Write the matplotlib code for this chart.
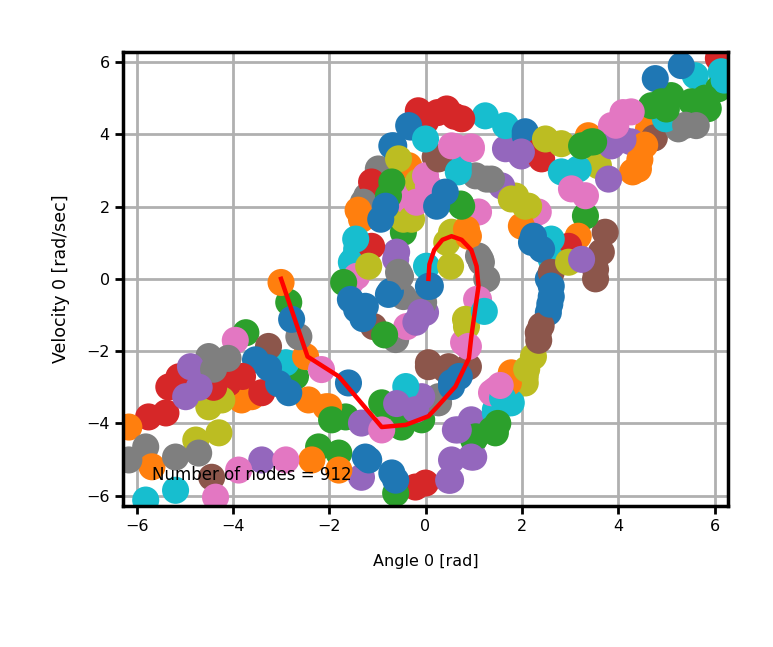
import numpy as np
import matplotlib
matplotlib.use("Agg")
import matplotlib.pyplot as plt

# tree nodes, grouped by their tab10 colour
nodes_blue = [(-0.31, 4.2), (-0.66, 3.68), (-0.35, 4.24), (-0.7, 3.68), (2.07, 4.07), (2.07, 3.96),
              (0.41, 2.29), (2.24, 1.18), (2.41, 0.82), (2.2, 1.01), (2.55, 0.0), (2.61, -0.49),
              (2.55, -0.93), (0.54, -2.87), (0.54, -2.98), (-0.73, -0.35), (-1.25, -0.76), (0.06, -0.21),
              (-3.53, -2.24), (-3.26, -2.46), (-2.84, -3.15), (-2.78, -1.12), (-1.6, -2.88), (-1.25, -4.93),
              (-0.7, -5.37), (-1.18, -5.01), (-0.62, -5.57), (4.77, 5.54), (5.31, 5.9), (0.41, 2.4),
              (-0.77, -0.43), (-1.43, -0.85), (-1.56, -0.57), (0.1, -0.2), (-0.83, 2.01), (-0.93, 1.65),
              (0.23, 2.01), (2.61, -0.2), (2.58, -0.7), (-3.05, -2.9), (0.7, -2.7), (-1.3, -1.1)]
nodes_orange = [(-1.33, 1.65), (-0.35, 3.13), (2.03, 1.46), (1.99, 1.46), (3.17, 1.18), (1.78, -2.6),
                (4.63, 4.15), (4.42, 3.04), (4.3, 2.96), (3.38, 3.96), (-6.16, -4.1), (-3.82, -3.35),
                (-3.61, -3.26), (-2.43, -3.35), (-2.07, -3.54), (-5.68, -5.2), (-2.36, -5.01), (-3.0, -0.1),
                (-2.49, -2.15), (-2.01, -3.54), (-1.8, -5.29), (0.89, 1.18), (1.72, -2.88), (0.85, 1.37),
                (4.45, 3.3), (-1.4, 1.9), (4.55, 3.7)]
nodes_green = [(0.73, 2.07), (-0.46, 1.29), (3.32, 1.74), (1.45, -4.26), (1.0, -4.46), (-0.08, -3.9),
               (-0.83, -3.54), (-3.73, -1.49), (-2.7, -2.7), (-2.22, -4.65), (-1.8, -4.82), (-2.84, -0.65),
               (-1.66, -3.82), (-0.91, -3.43), (-0.5, -4.1), (-0.62, -5.93), (1.04, -4.37), (1.37, -4.18),
               (5.1, 5.07), (5.87, 4.71), (5.52, 4.9), (4.69, 4.79), (6.08, 5.26), (3.44, 3.79), (3.24, 3.68),
               (0.75, 2.01), (-1.7, -0.1), (-0.77, 2.3), (-0.7, 2.68), (3.49, 3.79), (1.5, -4.0),
               (5.8, 5.0), (4.9, 4.9), (-1.95, -3.9), (-0.85, -1.55), (5.0, 4.7)]
nodes_red = [(-0.15, 4.65), (0.0, 4.35), (0.44, 4.7), (0.75, 4.43), (2.41, 3.32), (2.97, 0.9), (0.0, -5.65),
             (-5.75, -3.82), (-5.39, -3.71), (-5.33, -2.99), (-5.12, -2.71), (-4.09, -2.88), (-3.4, -3.15),
             (-0.21, -5.76), (6.08, 6.1), (2.34, 3.51), (0.25, 4.6), (-1.12, 2.68), (-1.12, 0.9),
             (-4.4, -3.0), (-3.8, -2.7), (0.6, 4.5)]
nodes_purple = [(1.66, 3.6), (1.99, 3.4), (1.58, 2.57), (-0.6, 0.74), (0.95, -3.9), (0.62, -4.18),
                (1.0, -4.93), (0.54, -5.01), (0.52, -5.57), (0.0, -0.93), (-0.35, -3.43), (-0.08, -3.26),
                (-0.62, 0.54), (-0.1, -0.93), (-4.88, -2.43), (-4.98, -3.26), (-3.4, -5.01), (-1.33, -3.99),
                (-0.21, -3.62), (-1.33, -5.49), (0.48, -5.57), (0.95, -4.93), (0.68, -4.18), (4.27, 3.79),
                (3.86, 3.68), (3.8, 2.76), (1.99, 3.51), (3.24, 0.54), (-4.7, -3.0), (4.1, 3.85),
                (-0.6, -3.45), (-0.2, -1.2)]
nodes_brown = [(0.2, 3.37), (3.73, 1.29), (3.65, 0.74), (3.53, 0.26), (3.53, 0.0), (2.34, -1.49),
               (0.06, -2.43), (0.41, -2.51), (0.89, -2.43), (-1.08, -1.32), (0.06, -2.32), (0.48, -2.43),
               (-3.26, -1.87), (-4.44, -5.49), (4.75, 3.9), (0.27, 3.32), (2.61, 0.18), (2.4, -1.3),
               (2.35, -1.7)]
nodes_pink = [(0.62, 3.65), (0.95, 3.65), (2.34, 1.85), (-0.21, 2.4), (-0.35, 2.13), (0.0, 2.85),
              (1.1, 1.85), (1.45, -3.07), (0.79, -1.76), (1.1, -0.57), (1.06, -0.57), (0.89, -1.87),
              (-1.43, 0.07), (-1.56, -0.1), (-0.39, -1.32), (-3.95, -1.7), (-4.36, -6.04), (-3.88, -5.29),
              (-2.9, -5.01), (-2.16, -2.51), (-0.91, -4.18), (1.37, -3.15), (4.27, 4.62), (3.86, 4.24),
              (3.03, 2.49), (3.32, 2.3), (0.54, 3.68), (0.95, 3.6), (0.06, 2.57), (-0.19, 2.12),
              (4.1, 4.6), (3.95, 4.25), (1.55, -2.95)]
nodes_gray = [(-0.98, 3.04), (-1.22, 2.29), (1.04, 2.85), (1.37, 2.76), (1.1, 0.63), (0.27, -3.43),
              (1.27, 0.0), (1.16, 0.46), (0.27, -3.26), (-0.62, -1.68), (-0.04, -0.65), (-0.46, -0.49),
              (-4.5, -2.15), (-4.36, -2.32), (-5.81, -4.65), (-6.16, -5.01), (-5.19, -4.93), (-4.71, -4.82),
              (-2.63, -1.6), (5.25, 4.15), (5.62, 4.24), (1.27, 2.76), (-0.52, 0.07), (-1.29, 2.12),
              (1.14, 0.54), (-0.56, 0.18), (-4.4, -2.5), (-4.1, -2.2), (5.4, 4.25)]
nodes_olive = [(2.41, 3.79), (1.87, 2.29), (2.14, 2.01), (-0.46, 1.65), (-0.15, 2.68), (0.44, 1.01),
               (0.54, 1.29), (2.24, -2.15), (2.07, -2.7), (0.85, -1.32), (0.83, -1.12), (-4.5, -3.54),
               (-4.23, -3.35), (-4.77, -4.46), (-4.29, -4.26), (2.07, -2.88), (3.59, 3.13), (2.82, 3.74),
               (2.49, 3.87), (1.78, 2.21), (2.07, 2.01), (0.52, 0.35), (-0.56, 3.32), (-0.29, 1.65),
               (-1.18, 0.35), (2.97, 0.46), (2.1, -2.5)]
nodes_cyan = [(-1.43, 0.82), (-1.49, 0.54), (1.24, 4.51), (1.66, 4.24), (0.68, 3.13), (2.61, 1.1),
              (2.61, 0.54), (1.72, -3.43), (1.45, -3.71), (-1.54, 0.46), (0.02, 0.35), (-2.9, -2.32),
              (-5.81, -6.12), (-5.19, -5.85), (-0.41, -2.98), (1.45, -3.62), (1.78, -3.43), (5.6, 5.62),
              (6.14, 5.73), (4.98, 4.43), (2.82, 2.96), (3.17, 3.04), (0.68, 2.96), (0.0, 3.87),
              (6.2, 5.5), (1.6, -3.3), (-1.45, 1.1), (1.22, -0.9)]

# best path found by the planner
path_angle = [-3.0, -2.45, -1.8, -0.91, -0.41, 0.06, 0.27, 0.62, 0.9, 0.95, 1.06, 1.1, 1.06, 0.95, 0.75,
              0.54, 0.35, 0.18, 0.08, 0.06]
path_velocity = [0.0, -2.15, -2.7, -4.1, -4.04, -3.8, -3.5, -2.98, -2.2, -1.6, -0.57, -0.2, 0.35, 0.8,
                 1.08, 1.18, 1.08, 0.8, 0.4, 0.0]

node_count = 912

groups = [
    ("tab:blue", nodes_blue),
    ("tab:orange", nodes_orange),
    ("tab:green", nodes_green),
    ("tab:red", nodes_red),
    ("tab:purple", nodes_purple),
    ("tab:brown", nodes_brown),
    ("tab:pink", nodes_pink),
    ("tab:gray", nodes_gray),
    ("tab:olive", nodes_olive),
    ("tab:cyan", nodes_cyan),
]

fig = plt.figure(figsize=(7.73, 6.47), dpi=100)
ax = fig.add_axes([0.159, 0.218, 0.783, 0.702])

# interleave the colour groups so no single colour always sits on top
layers = []
for color, pts in groups:
    for i, p in enumerate(pts):
        layers.append((i, color, p))
layers.sort(key=lambda t: t[0])
xs = [p[0] for _, _, p in layers]
ys = [p[1] for _, _, p in layers]
cs = [c for _, c, _ in layers]
ax.scatter(xs, ys, s=380, c=cs, linewidths=0, zorder=2)

ax.plot(path_angle, path_velocity, color="red", lw=3.2, zorder=3)

ax.text(-5.68, -5.43, f"Number of nodes = {node_count}", fontsize=12, va="center", ha="left", zorder=4)

ax.set_xlim(-2 * np.pi, 2 * np.pi)
ax.set_ylim(-2 * np.pi, 2 * np.pi)
ax.set_xticks([-6, -4, -2, 0, 2, 4, 6])
ax.set_yticks([-6, -4, -2, 0, 2, 4, 6])
ax.grid(True, color="#b0b0b0", lw=2, zorder=0)
ax.set_axisbelow(True)
for sp in ax.spines.values():
    sp.set_linewidth(2.5)
ax.tick_params(labelsize=11.5, width=2, length=6)
ax.set_xlabel("Angle 0 [rad]", fontsize=11.5, labelpad=14)
ax.set_ylabel("Velocity 0 [rad/sec]", fontsize=12.5, labelpad=12)

fig.savefig("out.png", dpi=100)
